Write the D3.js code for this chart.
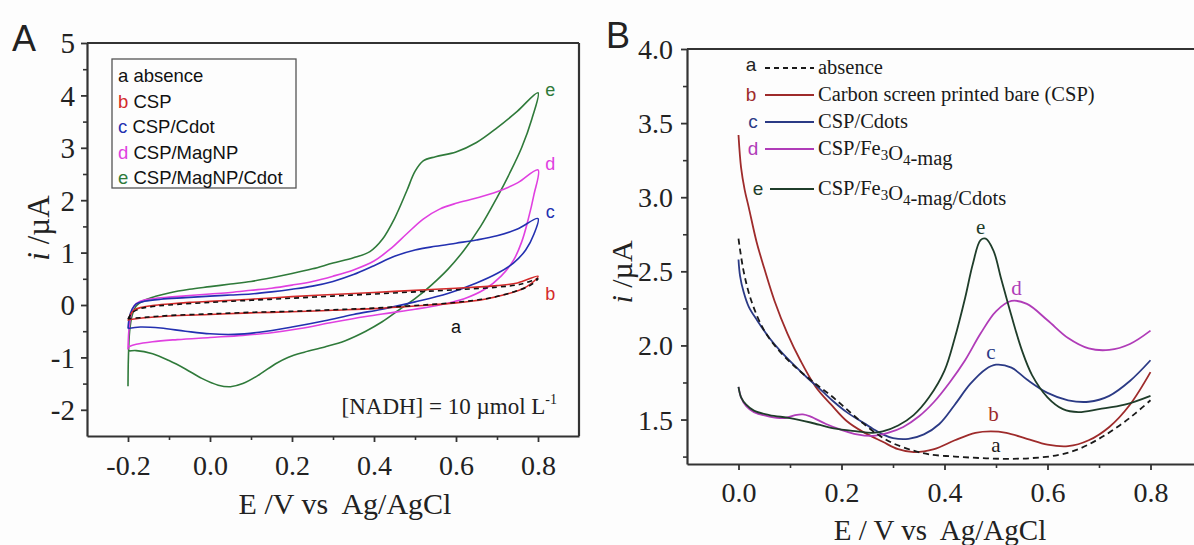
<!DOCTYPE html>
<html><head><meta charset="utf-8">
<script src="https://cdn.jsdelivr.net/npm/d3@7"></script>
<style>
body{margin:0;background:#fff;}
svg{display:block;}
</style></head>
<body>
<svg id="c" width="1194" height="545"></svg>
<script>
// ---------- Panel A data (cyclic voltammograms, E in V, i in µA) ----------
const A_ticksX = [-0.2, 0.0, 0.2, 0.4, 0.6, 0.8];
const A_ticksY = [-2, -1, 0, 1, 2, 3, 4, 5];
const A_legendKeys = ["a", "b", "c", "d", "e"];
const A_legendNames = ["absence", "CSP", "CSP/Cdot", "CSP/MagNP", "CSP/MagNP/Cdot"];

const A_a = [[-0.2,-0.27],[-0.19,-0.15],[-0.17,-0.07],[-0.14,-0.03],[-0.1,0.0],[0.0,0.05],[0.1,0.09],[0.2,0.13],[0.3,0.17],[0.4,0.21],[0.5,0.25],[0.6,0.29],[0.7,0.34],[0.76,0.4],[0.8,0.5],[0.78,0.37],[0.74,0.25],[0.68,0.13],[0.6,0.05],[0.5,-0.01],[0.4,-0.06],[0.3,-0.09],[0.2,-0.12],[0.1,-0.14],[0.0,-0.17],[-0.1,-0.2],[-0.15,-0.23],[-0.2,-0.26]];
const A_b = [[-0.2,-0.3],[-0.195,-0.2],[-0.185,-0.1],[-0.17,-0.05],[-0.14,-0.01],[-0.1,0.02],[-0.05,0.05],[0.0,0.07],[0.1,0.11],[0.2,0.16],[0.3,0.2],[0.4,0.24],[0.5,0.28],[0.6,0.32],[0.7,0.37],[0.75,0.42],[0.8,0.55],[0.785,0.42],[0.76,0.3],[0.72,0.2],[0.67,0.11],[0.6,0.04],[0.5,-0.02],[0.4,-0.07],[0.3,-0.1],[0.2,-0.13],[0.1,-0.15],[0.0,-0.18],[-0.1,-0.21],[-0.15,-0.24],[-0.2,-0.28]];
const A_c = [[-0.2,-0.45],[-0.197,-0.25],[-0.19,-0.08],[-0.18,0.02],[-0.16,0.07],[-0.12,0.11],[-0.06,0.14],[0.0,0.17],[0.05,0.19],[0.1,0.21],[0.15,0.25],[0.2,0.3],[0.25,0.36],[0.3,0.45],[0.35,0.58],[0.4,0.75],[0.45,0.93],[0.5,1.05],[0.55,1.12],[0.6,1.18],[0.65,1.24],[0.7,1.32],[0.75,1.45],[0.8,1.65],[0.79,1.35],[0.77,1.05],[0.74,0.8],[0.7,0.6],[0.65,0.42],[0.58,0.22],[0.5,0.06],[0.42,-0.08],[0.35,-0.18],[0.28,-0.3],[0.2,-0.42],[0.12,-0.52],[0.06,-0.56],[0.0,-0.55],[-0.06,-0.5],[-0.12,-0.44],[-0.17,-0.42],[-0.2,-0.45]];
const A_d = [[-0.2,-0.85],[-0.198,-0.5],[-0.193,-0.2],[-0.185,-0.02],[-0.17,0.07],[-0.14,0.12],[-0.1,0.15],[-0.05,0.18],[0.0,0.21],[0.05,0.24],[0.1,0.28],[0.15,0.32],[0.2,0.38],[0.25,0.45],[0.3,0.55],[0.35,0.67],[0.4,0.84],[0.44,1.07],[0.48,1.36],[0.52,1.64],[0.56,1.83],[0.6,1.94],[0.65,2.04],[0.7,2.16],[0.75,2.33],[0.8,2.58],[0.79,2.1],[0.775,1.6],[0.76,1.2],[0.74,0.85],[0.71,0.55],[0.67,0.3],[0.62,0.12],[0.56,0.0],[0.5,-0.08],[0.44,-0.15],[0.38,-0.22],[0.3,-0.33],[0.22,-0.45],[0.15,-0.53],[0.08,-0.58],[0.0,-0.62],[-0.08,-0.66],[-0.14,-0.7],[-0.18,-0.75],[-0.2,-0.8]];
const A_e = [[-0.2,-1.55],[-0.199,-1.0],[-0.196,-0.5],[-0.19,-0.2],[-0.18,-0.02],[-0.16,0.09],[-0.13,0.17],[-0.1,0.23],[-0.05,0.3],[0.0,0.35],[0.05,0.4],[0.1,0.45],[0.15,0.52],[0.2,0.6],[0.25,0.69],[0.3,0.8],[0.35,0.9],[0.39,1.02],[0.42,1.25],[0.45,1.65],[0.48,2.18],[0.5,2.55],[0.52,2.75],[0.55,2.83],[0.6,2.92],[0.65,3.1],[0.7,3.38],[0.75,3.7],[0.8,4.05],[0.785,3.55],[0.76,3.0],[0.73,2.5],[0.7,2.05],[0.66,1.5],[0.62,1.05],[0.58,0.68],[0.54,0.38],[0.5,0.12],[0.46,-0.1],[0.42,-0.32],[0.38,-0.5],[0.33,-0.68],[0.28,-0.8],[0.23,-0.9],[0.19,-1.0],[0.16,-1.12],[0.12,-1.33],[0.08,-1.5],[0.05,-1.56],[0.02,-1.53],[-0.02,-1.4],[-0.06,-1.22],[-0.1,-1.06],[-0.14,-0.93],[-0.18,-0.87],[-0.2,-0.88]];
// curve end-label anchors (E, i)
const A_labelPos = [[0.6,-0.42],[0.83,0.22],[0.83,1.78],[0.83,2.7],[0.83,4.1]];

// ---------- Panel B data (DPV, E in V, i in µA) ----------
const B_ticksX = [0.0, 0.2, 0.4, 0.6, 0.8];
const B_ticksY = [1.5, 2.0, 2.5, 3.0, 3.5, 4.0];
const B_legendKeys = ["a", "b", "c", "d", "e"];
const B_a = [[0,2.72],[0.01,2.5],[0.025,2.3],[0.05,2.1],[0.08,1.96],[0.115,1.84],[0.15,1.74],[0.18,1.66],[0.21,1.57],[0.24,1.48],[0.27,1.4],[0.3,1.34],[0.34,1.29],[0.37,1.265],[0.42,1.25],[0.47,1.24],[0.52,1.235],[0.57,1.24],[0.62,1.26],[0.66,1.3],[0.7,1.37],[0.74,1.46],[0.77,1.54],[0.8,1.63]];
const B_b = [[0,3.42],[0.005,3.2],[0.012,3.05],[0.02,2.93],[0.035,2.7],[0.05,2.52],[0.07,2.3],[0.095,2.08],[0.12,1.9],[0.15,1.72],[0.18,1.6],[0.21,1.49],[0.24,1.42],[0.28,1.35],[0.31,1.3],[0.34,1.28],[0.38,1.3],[0.42,1.36],[0.46,1.41],[0.49,1.42],[0.52,1.41],[0.56,1.37],[0.6,1.33],[0.64,1.32],[0.68,1.36],[0.72,1.45],[0.76,1.6],[0.8,1.82]];
const B_c = [[0,2.58],[0.003,2.47],[0.01,2.36],[0.02,2.26],[0.036,2.17],[0.06,2.05],[0.082,1.96],[0.11,1.86],[0.134,1.78],[0.16,1.7],[0.185,1.62],[0.21,1.55],[0.237,1.49],[0.26,1.44],[0.28,1.4],[0.3,1.375],[0.33,1.37],[0.36,1.4],[0.39,1.47],[0.42,1.6],[0.45,1.74],[0.48,1.84],[0.5,1.87],[0.53,1.85],[0.56,1.77],[0.6,1.68],[0.64,1.63],[0.68,1.62],[0.72,1.66],[0.76,1.76],[0.8,1.9]];
const B_d = [[0,1.72],[0.005,1.65],[0.015,1.59],[0.03,1.55],[0.06,1.52],[0.09,1.51],[0.11,1.53],[0.125,1.535],[0.14,1.52],[0.17,1.47],[0.2,1.43],[0.23,1.4],[0.26,1.39],[0.29,1.41],[0.32,1.45],[0.35,1.52],[0.38,1.62],[0.41,1.75],[0.44,1.9],[0.47,2.08],[0.5,2.23],[0.53,2.3],[0.56,2.28],[0.6,2.17],[0.64,2.05],[0.68,1.98],[0.72,1.97],[0.76,2.01],[0.8,2.1]];
const B_e = [[0,1.72],[0.005,1.65],[0.015,1.6],[0.03,1.56],[0.06,1.53],[0.1,1.51],[0.14,1.48],[0.185,1.44],[0.23,1.42],[0.26,1.41],[0.28,1.42],[0.31,1.46],[0.34,1.53],[0.37,1.65],[0.4,1.83],[0.42,2.05],[0.44,2.32],[0.455,2.55],[0.47,2.71],[0.48,2.72],[0.495,2.64],[0.51,2.45],[0.53,2.2],[0.55,1.97],[0.57,1.8],[0.6,1.65],[0.63,1.57],[0.66,1.55],[0.7,1.57],[0.75,1.6],[0.8,1.66]];
const B_labelPos = [[0.5,1.33],[0.495,1.54],[0.49,1.96],[0.54,2.39],[0.47,2.8]];

// ---------- styling ----------
const A_colors = ["#111", "#d42a2a", "#2330b0", "#e040e0", "#2f7a3a"];
const B_colors = ["#1a1a1a", "#9e2b2b", "#2b3a85", "#b03cb8", "#1f3d2a"];
const serif = "'Liberation Serif','Times New Roman',serif";
const sans = "'Liberation Sans',Arial,sans-serif";
const axisCol = "#333";
const fmt1 = d => d.toFixed(1);
const fmt0 = d => String(d);

const svg = d3.select("#c");
svg.append("rect").attr("width",1194).attr("height",545).attr("fill","#fdfdfd");

function styleAxis(g, fs){
  g.select(".domain").attr("stroke",axisCol).attr("stroke-width",2.2);
  g.selectAll(".tick line").attr("stroke",axisCol).attr("stroke-width",1.8);
  g.selectAll(".tick text").attr("font-family",serif).attr("font-size",fs).attr("fill","#222");
}

// ================= Panel A =================
const xA = d3.scaleLinear([-0.3,0.9],[87,579]);
const yA = d3.scaleLinear([-2.5,5],[436,43]);
const gA = svg.append("g");

gA.append("line").attr("x1",xA(-0.3)).attr("x2",xA(0.9)).attr("y1",yA(5)).attr("y2",yA(5)).attr("stroke",axisCol).attr("stroke-width",2.2);
gA.append("line").attr("x1",xA(0.9)).attr("x2",xA(0.9)).attr("y1",yA(5)).attr("y2",yA(-2.5)).attr("stroke",axisCol).attr("stroke-width",2.2);

const axAx = gA.append("g").attr("transform",`translate(0,${yA(-2.5)})`)
  .call(d3.axisBottom(xA).tickValues(A_ticksX).tickFormat(fmt1).tickSize(6).tickSizeOuter(0).tickPadding(13));
styleAxis(axAx, 28);
gA.append("g").attr("transform",`translate(0,${yA(-2.5)})`)
  .call(d3.axisBottom(xA).tickValues([-0.1,0.1,0.3,0.5,0.7]).tickFormat("").tickSize(4).tickSizeOuter(0))
  .call(g=>{g.select(".domain").remove(); g.selectAll("line").attr("stroke",axisCol).attr("stroke-width",1.6);});
const axAy = gA.append("g").attr("transform",`translate(${xA(-0.3)},0)`)
  .call(d3.axisLeft(yA).tickValues(A_ticksY).tickFormat(fmt0).tickSize(6).tickSizeOuter(0).tickPadding(6));
styleAxis(axAy, 29);
axAy.selectAll(".tick text").attr("dy","0.34em");
gA.append("g").attr("transform",`translate(${xA(-0.3)},0)`)
  .call(d3.axisLeft(yA).tickValues([-1.5,-0.5,0.5,1.5,2.5,3.5,4.5]).tickFormat("").tickSize(4).tickSizeOuter(0))
  .call(g=>{g.select(".domain").remove(); g.selectAll("line").attr("stroke",axisCol).attr("stroke-width",1.6);});

const lineA = d3.line().x(d=>xA(d[0])).y(d=>yA(d[1])).curve(d3.curveCatmullRom.alpha(0.5));
[A_e, A_d, A_c, A_b].forEach((s,k)=>{
  const idx = 4-k;
  gA.append("path").attr("d",lineA(s)).attr("fill","none").attr("stroke",A_colors[idx]).attr("stroke-width",1.6);
});
gA.append("path").attr("d",lineA(A_a)).attr("fill","none").attr("stroke",A_colors[0]).attr("stroke-width",1.6).attr("stroke-dasharray","5,4");

A_labelPos.forEach((p,i)=>{
  gA.append("text").attr("x",xA(p[0])).attr("y",yA(p[1])).attr("dy","0.35em")
    .attr("text-anchor","middle").attr("font-family",sans).attr("font-size",18)
    .attr("fill",A_colors[i]).text(A_legendKeys[i]);
});

// legend A
gA.append("rect").attr("x",112).attr("y",59).attr("width",184).attr("height",129)
  .attr("fill","none").attr("stroke","#555").attr("stroke-width",1.3);
A_legendKeys.forEach((k,i)=>{
  const t = gA.append("text").attr("x",118).attr("y",82+i*25.5).attr("font-family",sans).attr("font-size",18.5).attr("fill","#111");
  t.append("tspan").attr("fill",A_colors[i]).text(k);
  t.append("tspan").text(" "+A_legendNames[i]);
});

const nad = gA.append("text").attr("x",557).attr("y",414).attr("text-anchor","end").attr("font-family",serif).attr("font-size",23).attr("fill","#222");
nad.append("tspan").text("[NADH] = 10 \u00b5mol L");
nad.append("tspan").attr("font-size",14).attr("dy",-10).text("-1");

gA.append("text").attr("x",345).attr("y",514).attr("text-anchor","middle").attr("font-family",serif).attr("font-size",30).attr("fill","#222")
  .attr("xml:space","preserve").text("E /V vs  Ag/AgCl");
const tyA = gA.append("text").attr("transform","translate(49,228) rotate(-90)").attr("text-anchor","middle").attr("font-family",serif).attr("font-size",31).attr("fill","#222");
tyA.append("tspan").attr("font-style","italic").text("i");
tyA.append("tspan").text(" /\u00b5A");
gA.append("text").attr("x",12).attr("y",51).attr("font-family",sans).attr("font-size",36).attr("fill","#222").text("A");

// ================= Panel B =================
const xB = d3.scaleLinear([-0.1,0.9],[687,1202]);
const yB = d3.scaleLinear([1.2,4.0],[464,49]);
const gB = svg.append("g");

gB.append("line").attr("x1",xB(-0.1)).attr("x2",1194).attr("y1",yB(4)).attr("y2",yB(4)).attr("stroke",axisCol).attr("stroke-width",2.2);

const axBx = gB.append("g").attr("transform",`translate(0,${yB(1.2)})`)
  .call(d3.axisBottom(xB).tickValues(B_ticksX).tickFormat(fmt1).tickSize(6).tickSizeOuter(0).tickPadding(12));
styleAxis(axBx, 28);
gB.append("g").attr("transform",`translate(0,${yB(1.2)})`)
  .call(d3.axisBottom(xB).tickValues([0.1,0.3,0.5,0.7]).tickFormat("").tickSize(4).tickSizeOuter(0))
  .call(g=>{g.select(".domain").remove(); g.selectAll("line").attr("stroke",axisCol).attr("stroke-width",1.6);});
const axBy = gB.append("g").attr("transform",`translate(${xB(-0.1)},0)`)
  .call(d3.axisLeft(yB).tickValues(B_ticksY).tickFormat(fmt1).tickSize(6).tickSizeOuter(0).tickPadding(8));
styleAxis(axBy, 28);
axBy.selectAll(".tick text").attr("dy","0.34em");
gB.append("g").attr("transform",`translate(${xB(-0.1)},0)`)
  .call(d3.axisLeft(yB).tickValues([1.25,1.75,2.25,2.75,3.25,3.75]).tickFormat("").tickSize(4).tickSizeOuter(0))
  .call(g=>{g.select(".domain").remove(); g.selectAll("line").attr("stroke",axisCol).attr("stroke-width",1.6);});

const lineB = d3.line().x(d=>xB(d[0])).y(d=>yB(d[1])).curve(d3.curveCatmullRom.alpha(0.5));
[B_b, B_c, B_d, B_e].forEach((s,k)=>{
  gB.append("path").attr("d",lineB(s)).attr("fill","none").attr("stroke",B_colors[k+1]).attr("stroke-width",1.8);
});
gB.append("path").attr("d",lineB(B_a)).attr("fill","none").attr("stroke",B_colors[0]).attr("stroke-width",1.8).attr("stroke-dasharray","6,4");

B_labelPos.forEach((p,i)=>{
  gB.append("text").attr("x",xB(p[0])).attr("y",yB(p[1])).attr("dy","0.35em")
    .attr("text-anchor","middle").attr("font-family",serif).attr("font-size",21)
    .attr("fill",B_colors[i]).text(B_legendKeys[i]);
});

// legend B
const B_rowsY = [74, 101, 128, 155, 195];
const B_letterX = [751, 751, 753, 753, 758];
const B_lineX0 = [765, 765, 765, 765, 770];
B_legendKeys.forEach((k,i)=>{
  const y = B_rowsY[i];
  gB.append("text").attr("x",B_letterX[i]).attr("y", i===0 ? y-3 : y).attr("text-anchor","middle").attr("font-family",sans).attr("font-size",19).attr("fill",B_colors[i]==="#1a1a1a"?"#222":B_colors[i]).text(k);
  gB.append("line").attr("x1",B_lineX0[i]).attr("x2",814).attr("y1",y-6).attr("y2",y-6)
    .attr("stroke",B_colors[i]).attr("stroke-width",2).attr("stroke-dasharray", i===0 ? "5,4" : null);
});
function legendB(y, parts){
  const t = gB.append("text").attr("x",818).attr("y",y).attr("font-family",serif).attr("font-size",20.5).attr("fill","#1a1a1a");
  parts.forEach(p=>{
    if(p.sub){ t.append("tspan").attr("font-size",15).attr("dy",5).text(p.t); t.append("tspan").attr("dy",-5).text(""); }
    else t.append("tspan").text(p.t);
  });
}
legendB(B_rowsY[0], [{t:"absence"}]);
legendB(B_rowsY[1], [{t:"Carbon screen printed bare (CSP)"}]);
legendB(B_rowsY[2], [{t:"CSP/Cdots"}]);
legendB(B_rowsY[3], [{t:"CSP/Fe"},{t:"3",sub:1},{t:"O"},{t:"4",sub:1},{t:"-mag"}]);
legendB(B_rowsY[4], [{t:"CSP/Fe"},{t:"3",sub:1},{t:"O"},{t:"4",sub:1},{t:"-mag/Cdots"}]);

gB.append("text").attr("x",940).attr("y",540).attr("text-anchor","middle").attr("font-family",serif).attr("font-size",29).attr("fill","#222")
  .attr("xml:space","preserve").text("E / V vs  Ag/AgCl");
const tyB = gB.append("text").attr("transform","translate(632,272) rotate(-90)").attr("text-anchor","middle").attr("font-family",serif).attr("font-size",30).attr("fill","#222");
tyB.append("tspan").attr("font-style","italic").text("i");
tyB.append("tspan").text(" /\u00b5A");
gB.append("text").attr("x",606).attr("y",48).attr("font-family",sans).attr("font-size",36).attr("fill","#222").text("B");
</script>
</body></html>
